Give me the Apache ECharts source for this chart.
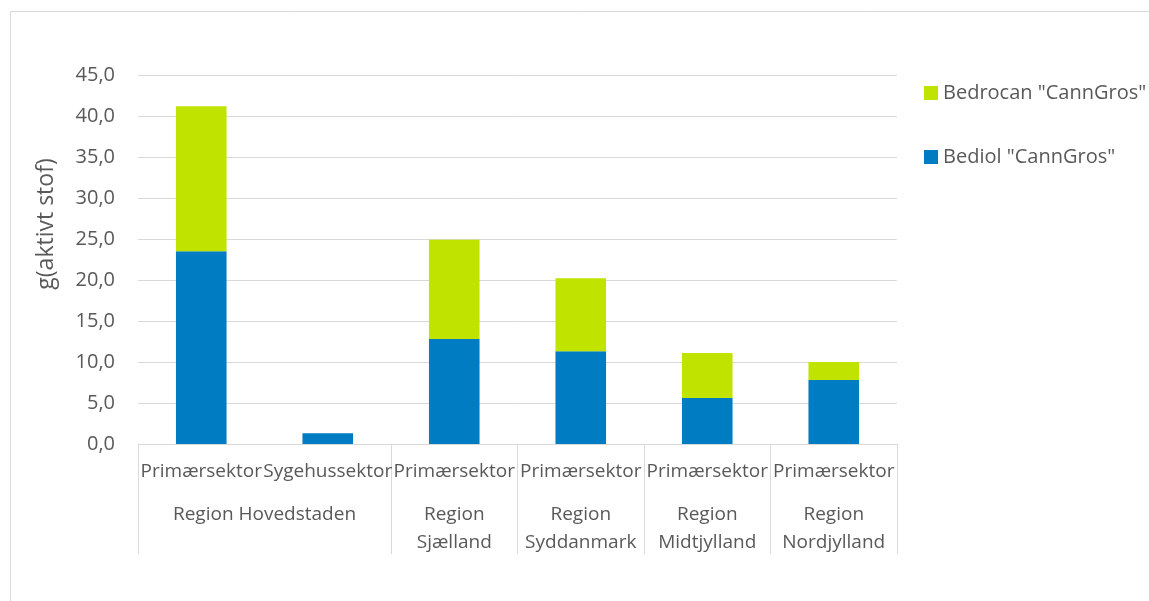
<!DOCTYPE html>
<html>
<head>
<meta charset="utf-8">
<script src="https://cdn.jsdelivr.net/npm/echarts@6/dist/echarts.min.js"></script>
<style>
  html, body { margin: 0; padding: 0; background: #fff; }
  #chart { width: 1149px; height: 601px; }
</style>
</head>
<body>
<div id="chart"></div>
<script>
// sub-categories (first level of the x axis)
var sectors = ['Primærsektor', 'Sygehussektor', 'Primærsektor', 'Primærsektor', 'Primærsektor', 'Primærsektor'];
// regions (second level); Hovedstaden covers the first two sectors
var regions = ['Region Hovedstaden', 'Region\nSjælland', 'Region\nSyddanmark', 'Region\nMidtjylland', 'Region\nNordjylland'];
var regionSpan = [2, 1, 1, 1, 1];

var bediol = [23.5, 1.3, 12.8, 11.3, 5.6, 7.8];
var bedrocan = [17.7, null, 12.1, 8.9, 5.5, 2.2];

var yTicks = { min: 0, max: 45, step: 5 };

// boundaries and centres of the region groups, on a 0..n scale
var bounds = [0];
var centres = [];
regionSpan.forEach(function (s) {
  var start = bounds[bounds.length - 1];
  centres.push(start + s / 2);
  bounds.push(start + s);
});

var textColor = '#595959';
var lineColor = '#d9d9d9';
var font = 'Open Sans';

var chart = echarts.init(document.getElementById('chart'));

var option = {
  animation: false,
  textStyle: { fontFamily: font },
  grid: { left: 138, right: 252, top: 75, bottom: 157 },
  legend: {
    orient: 'vertical',
    left: 919,
    top: 78,
    itemWidth: 14,
    itemHeight: 14,
    itemGap: 44,
    icon: 'rect',
    textStyle: { color: textColor, fontSize: 20, lineHeight: 20, fontFamily: font },
    data: ['Bedrocan "CannGros"', 'Bediol "CannGros"']
  },
  xAxis: [
    {
      type: 'category',
      data: sectors,
      axisLine: { lineStyle: { color: lineColor } },
      axisTick: { show: false },
      axisLabel: {
        color: textColor,
        fontSize: 19,
        margin: 17,
        lineHeight: 22,
        interval: 0
      }
    },
    {
      type: 'value',
      position: 'bottom',
      min: 0,
      max: sectors.length,
      splitLine: { show: false },
      axisLine: { show: false },
      axisTick: {
        show: true,
        customValues: bounds,
        length: 110,
        lineStyle: { color: lineColor }
      },
      axisLabel: {
        show: true,
        customValues: centres,
        color: textColor,
        fontSize: 19,
        lineHeight: 28,
        margin: 57,
        verticalAlign: 'top',
        formatter: function (v) {
          var i = centres.indexOf(v);
          return i >= 0 ? regions[i] : '';
        }
      }
    }
  ],
  yAxis: {
    type: 'value',
    min: yTicks.min,
    max: yTicks.max,
    interval: yTicks.step,
    axisLine: { show: false },
    axisTick: { show: false },
    splitLine: { lineStyle: { color: lineColor } },
    axisLabel: {
      color: textColor,
      fontSize: 20,
      margin: 23,
      formatter: function (v) { return v.toFixed(1).replace('.', ','); }
    }
  },
  graphic: [
    {
      type: 'rect',
      silent: true,
      shape: { x: 10.5, y: 11.5, width: 1200, height: 700 },
      style: { fill: 'none', stroke: lineColor, lineWidth: 1 }
    },
    {
      type: 'text',
      silent: true,
      x: 46,
      y: 224,
      rotation: Math.PI / 2,
      style: {
        text: 'g(aktivt stof)',
        fill: textColor,
        fontSize: 23,
        fontFamily: font,
        align: 'center',
        verticalAlign: 'middle'
      }
    }
  ],
  series: [
    {
      name: 'Bediol "CannGros"',
      type: 'bar',
      stack: 'total',
      barWidth: '40%',
      itemStyle: { color: '#007cc3' },
      data: bediol
    },
    {
      name: 'Bedrocan "CannGros"',
      type: 'bar',
      stack: 'total',
      barWidth: '40%',
      itemStyle: { color: '#c0e400' },
      data: bedrocan
    }
  ]
};

chart.setOption(option);
</script>
</body>
</html>
